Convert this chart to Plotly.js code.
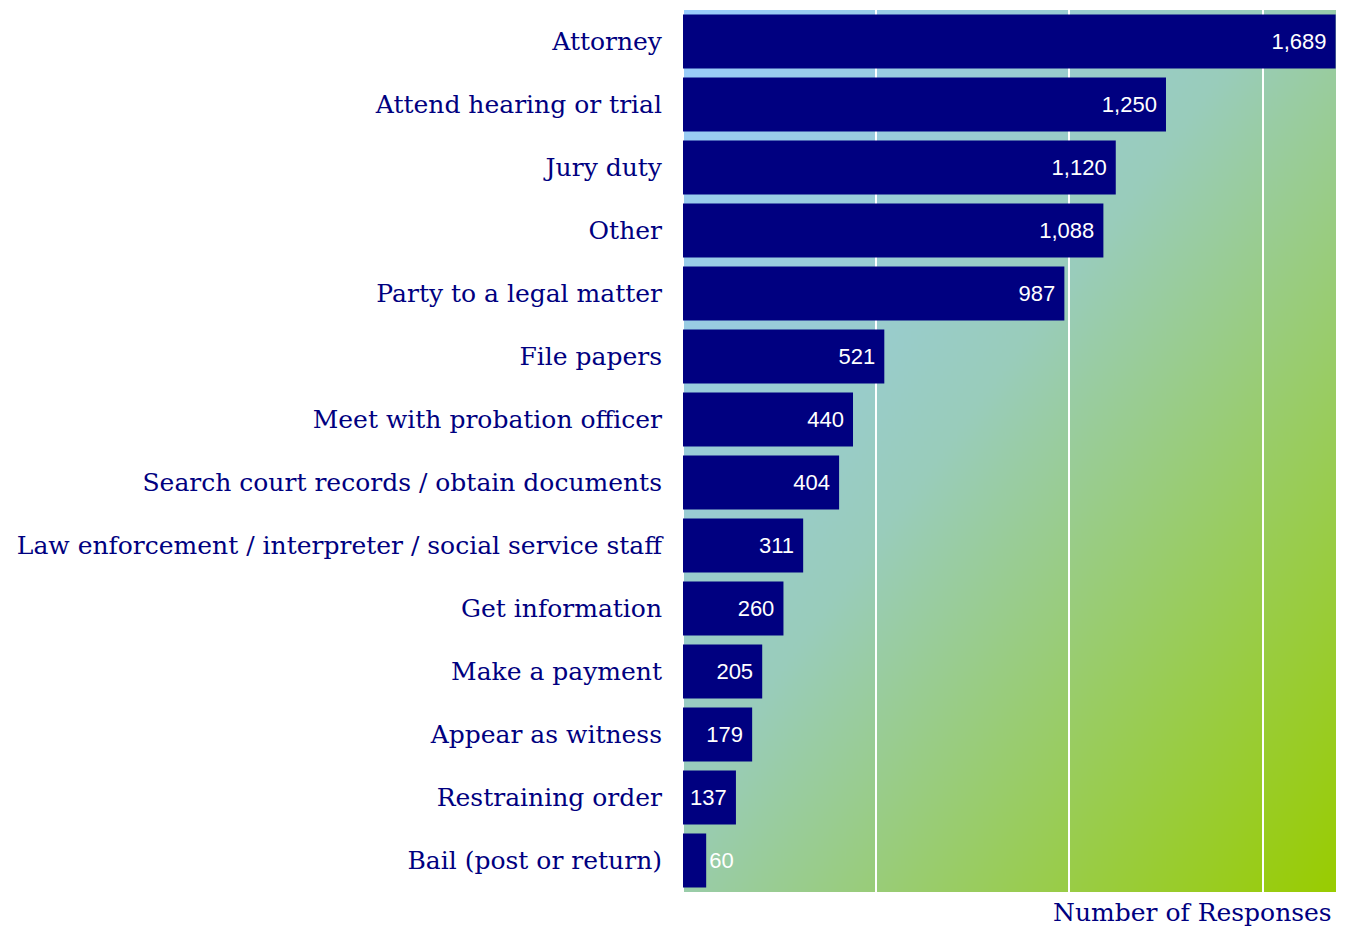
<!DOCTYPE html>
<html>
<head>
<meta charset="utf-8">
<script src="https://cdn.plot.ly/plotly-3.0.1.min.js"></script>
<style>
  body { margin: 0; background: #fff; }
  #chart { width: 1346px; height: 933px; }
</style>
</head>
<body>
<div id="chart"></div>
<script>
var reasons = [
  'Attorney',
  'Attend hearing or trial',
  'Jury duty',
  'Other',
  'Party to a legal matter',
  'File papers',
  'Meet with probation officer',
  'Search court records / obtain documents',
  'Law enforcement / interpreter / social service staff',
  'Get information',
  'Make a payment',
  'Appear as witness',
  'Restraining order',
  'Bail (post or return)'
];
var responses = [1689, 1250, 1120, 1088, 987, 521, 440, 404, 311, 260, 205, 179, 137, 60];

// diagonal gradient (square canvas, stretched over the plot area)
function gradientURL() {
  var c = document.createElement('canvas');
  c.width = 400; c.height = 400;
  var ctx = c.getContext('2d');
  var g = ctx.createLinearGradient(0, 0, 400, 400);
  g.addColorStop(0, '#99ccff');
  g.addColorStop(0.45, '#99ccbb');
  g.addColorStop(1, '#99cc00');
  ctx.fillStyle = g;
  ctx.fillRect(0, 0, 400, 400);
  return c.toDataURL('image/png');
}

var navy = '#000080';

var trace = {
  type: 'bar',
  orientation: 'h',
  y: reasons,
  x: responses,
  text: responses.map(function (v) { return v.toLocaleString('en-US') + ' '; }),
  textposition: 'auto',
  insidetextanchor: 'end',
  insidetextfont: {family: 'Liberation Sans, Arial, sans-serif', size: 22, color: '#ffffff'},
  outsidetextfont: {family: 'Liberation Sans, Arial, sans-serif', size: 22, color: '#ffffff'},
  marker: {color: navy},
  cliponaxis: false,
  hoverinfo: 'none'
};

var layout = {
  width: 1346,
  height: 933,
  margin: {l: 683, r: 10, t: 10, b: 41},
  paper_bgcolor: '#ffffff',
  plot_bgcolor: 'rgba(0,0,0,0)',
  showlegend: false,
  bargap: 0.14,
  font: {family: 'DejaVu Serif, serif', color: navy},
  xaxis: {
    range: [0, 1690],
    dtick: 500,
    showticklabels: false,
    showgrid: true,
    gridcolor: '#ffffff',
    gridwidth: 2,
    zeroline: true,
    zerolinecolor: '#ffffff',
    zerolinewidth: 1,
    fixedrange: true
  },
  yaxis: {
    autorange: 'reversed',
    showgrid: false,
    ticks: '',
    ticklabelstandoff: 20,
    tickfont: {family: 'DejaVu Serif, serif', size: 25, color: navy},
    fixedrange: true
  },
  images: [{
    source: gradientURL(),
    xref: 'paper', yref: 'paper',
    x: 0, y: 1, sizex: 1, sizey: 1,
    xanchor: 'left', yanchor: 'top',
    sizing: 'stretch',
    layer: 'below'
  }],
  annotations: [{
    text: 'Number of Responses',
    xref: 'paper', yref: 'paper',
    x: 1, y: 0, xanchor: 'right', yanchor: 'top',
    xshift: -2, yshift: -4,
    showarrow: false,
    font: {family: 'DejaVu Serif, serif', size: 25, color: navy}
  }]
};

Plotly.newPlot('chart', [trace], layout, {displayModeBar: false, staticPlot: true});
</script>
</body>
</html>
